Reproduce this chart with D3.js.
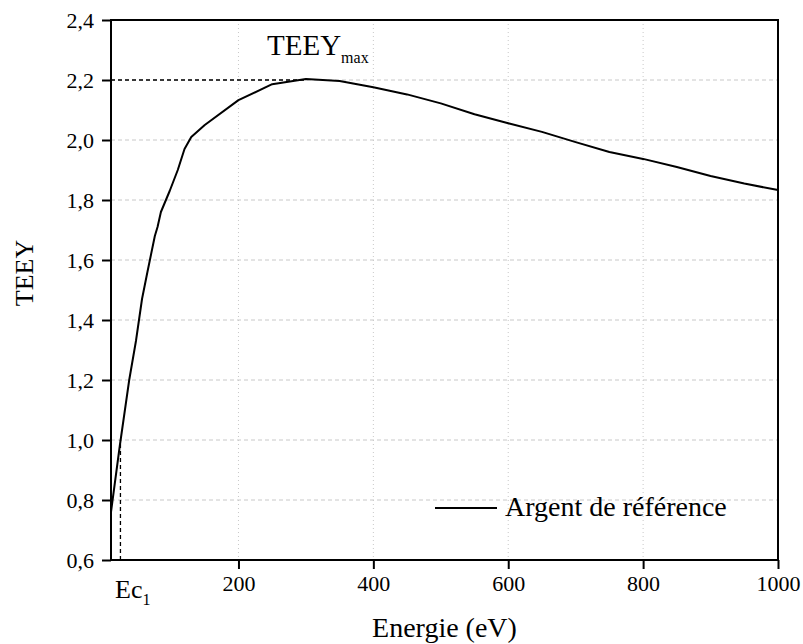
<!DOCTYPE html>
<html><head><meta charset="utf-8">
<script src="https://cdn.jsdelivr.net/npm/d3@7"></script>
<style>body{margin:0;background:#fff}svg{display:block}text{font-family:"Liberation Serif","Times New Roman",serif;fill:#000}</style>
</head><body><svg id="c" width="803" height="644"></svg>
<script>
const energy = [11, 24, 38, 48, 57, 65, 76, 80, 85, 98, 110, 120, 130, 150, 200, 250, 300, 350, 400, 450, 500, 550, 600, 650, 700, 750, 800, 850, 900, 950, 1000];
const teey   = [0.76, 0.98, 1.2, 1.33, 1.47, 1.56, 1.68, 1.71, 1.76, 1.83, 1.9, 1.97, 2.01, 2.05, 2.133, 2.186, 2.203, 2.197, 2.176, 2.152, 2.122, 2.086, 2.056, 2.027, 1.993, 1.96, 1.937, 1.91, 1.88, 1.855, 1.833];
const xTicks = [200, 400, 600, 800, 1000];
const yTicks = [0.6, 0.8, 1.0, 1.2, 1.4, 1.6, 1.8, 2.0, 2.2, 2.4];
const ec1 = 25, ec1Y = 1.0;
const teeyMax = 2.2, eMax = 300;
const seriesName = "Argent de référence";

const svg = d3.select("#c");
const L = 111, R = 778, T = 20, B = 560;
const x = d3.scaleLinear().domain([11, 1000]).range([L, R]);
const y = d3.scaleLinear().domain([0.6, 2.4]).range([B, T]);
const fmt = d => d3.format(".1f")(d).replace(".", ",");

// grid
const g = svg.append("g");
g.selectAll(".hg").data(yTicks.filter(v => v > 0.6 && v < 2.4)).join("line")
  .attr("x1", L).attr("x2", R).attr("y1", d => y(d)).attr("y2", d => y(d))
  .attr("stroke", "#c8c8c8").attr("stroke-width", 1).attr("stroke-dasharray", "4,3");
g.selectAll(".vg").data(xTicks.filter(v => v < 1000)).join("line")
  .attr("x1", d => x(d)).attr("x2", d => x(d)).attr("y1", T).attr("y2", B)
  .attr("stroke", "#c8c8c8").attr("stroke-width", 1).attr("stroke-dasharray", "1,3");

// reference dashed lines
svg.append("line").attr("x1", L).attr("x2", x(eMax)).attr("y1", y(teeyMax)).attr("y2", y(teeyMax))
  .attr("stroke", "#000").attr("stroke-width", 1.3).attr("stroke-dasharray", "4,3");
svg.append("line").attr("x1", x(ec1)).attr("x2", x(ec1)).attr("y1", B).attr("y2", y(ec1Y))
  .attr("stroke", "#000").attr("stroke-width", 1.3).attr("stroke-dasharray", "4,3");

// curve
const data = energy.map((e, i) => [e, teey[i]]);
svg.append("path").datum(data).attr("fill", "none").attr("stroke", "#000").attr("stroke-width", 2)
  .attr("stroke-linejoin", "round")
  .attr("d", d3.line().x(d => x(d[0])).y(d => y(d[1])));

// axes
const xMinor = d3.range(50, 1001, 50);
const yMinor = d3.range(0.7, 2.4, 0.2);
const xa = svg.append("g").attr("transform", `translate(0,${B})`);
xa.call(d3.axisBottom(x).tickValues(xMinor).tickSize(5).tickFormat(""));
xa.call(d3.axisBottom(x).tickValues(xTicks).tickSize(9).tickPadding(6).tickFormat(d3.format("d")));
xa.select(".domain").remove();
const ya = svg.append("g").attr("transform", `translate(${L},0)`);
ya.call(d3.axisLeft(y).tickValues(yMinor).tickSize(5).tickFormat(""));
ya.call(d3.axisLeft(y).tickValues(yTicks).tickSize(9).tickPadding(8).tickFormat(fmt));
ya.select(".domain").remove();
svg.selectAll(".tick line").attr("stroke", "#000").attr("stroke-width", 2);
svg.selectAll(".tick text").style("font-size", "22px").style("font-family", '"Liberation Serif",serif');
// box
svg.append("rect").attr("x", L).attr("y", T).attr("width", R - L).attr("height", B - T)
  .attr("fill", "none").attr("stroke", "#000").attr("stroke-width", 2);

// Ec1 label
const ec = svg.append("text").attr("x", 115).attr("y", 598).style("font-size", "26px");
ec.append("tspan").text("Ec");
ec.append("tspan").attr("dy", 7).style("font-size", "16px").text("1");

// TEEYmax label
const tm = svg.append("text").attr("x", 267).attr("y", 55).style("font-size", "29px");
tm.append("tspan").text("TEEY");
tm.append("tspan").attr("dy", 8).style("font-size", "16px").text("max");

// axis titles
svg.append("text").attr("x", (L + R) / 2).attr("y", 637).attr("text-anchor", "middle").style("font-size", "28px").text("Energie (eV)");
svg.append("text").attr("transform", `translate(33,273) rotate(-90)`).attr("text-anchor", "middle").style("font-size", "26px").text("TEEY");

// legend
svg.append("line").attr("x1", 435).attr("x2", 497).attr("y1", 508).attr("y2", 508).attr("stroke", "#000").attr("stroke-width", 2);
svg.append("text").attr("x", 505).attr("y", 516).style("font-size", "28px").text(seriesName);
</script></body></html>
